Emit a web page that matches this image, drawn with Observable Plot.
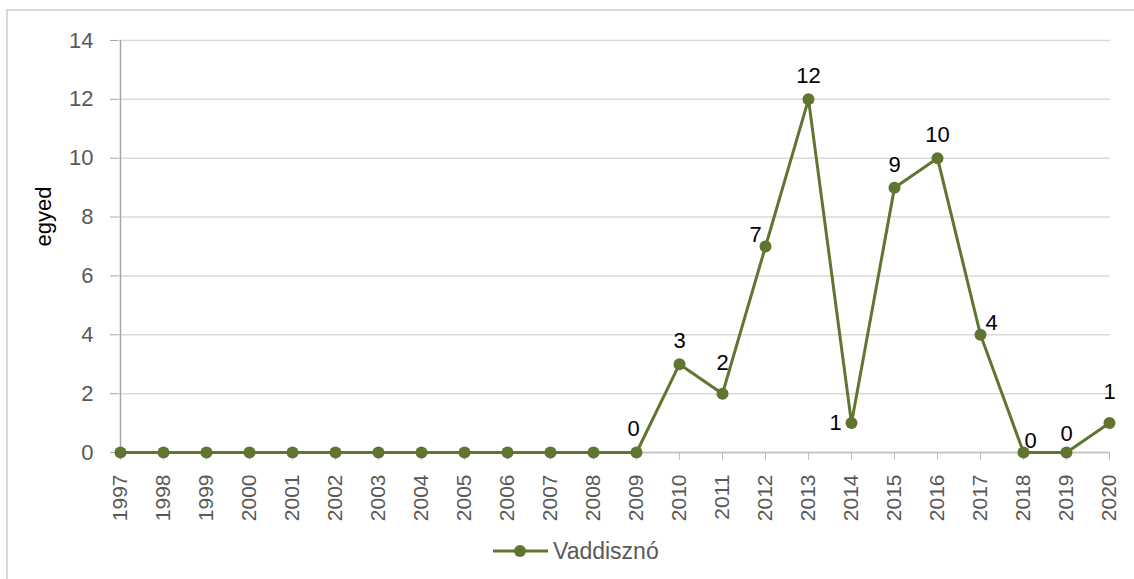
<!DOCTYPE html>
<html>
<head>
<meta charset="utf-8">
<script src="https://cdn.jsdelivr.net/npm/d3@7"></script>
<script src="https://cdn.jsdelivr.net/npm/@observablehq/plot@0.6"></script>
<style>
  html, body { margin: 0; padding: 0; background: #fff; }
  body { width: 1134px; height: 579px; position: relative; overflow: hidden; font-family: "Liberation Sans", Arial, sans-serif; }
  #frame { position: absolute; left: 6px; top: 9px; width: 1140px; height: 600px; border-left: 2px solid #d9d9d9; border-top: 2px solid #d9d9d9; box-sizing: border-box; pointer-events: none; }
  #chart { position: absolute; left: 0; top: 0; }
  #legend { position: absolute; left: 490px; top: 536px; display: flex; align-items: center; color: #595959; font-size: 23px; }
</style>
</head>
<body>
<div id="chart"></div>
<div id="legend"></div>
<div id="frame"></div>
<script>
const years = [1997,1998,1999,2000,2001,2002,2003,2004,2005,2006,2007,2008,2009,2010,2011,2012,2013,2014,2015,2016,2017,2018,2019,2020];
const values = [0,0,0,0,0,0,0,0,0,0,0,0,0,3,2,7,12,1,9,10,4,0,0,1];
// where the data label sits relative to its point (null = no label)
const labelPos = [null,null,null,null,null,null,null,null,null,null,null,null,"topLeft","top","topHigh","upLeft","top","left","top","top","upRight","upRightNear","topLow","topHigh"];
const seriesName = "Vaddisznó";
const yTicks = [0,2,4,6,8,10,12,14];
const yLabel = "egyed";

const color = "#5f7530";
const data = years.map((y, i) => ({year: y, value: values[i], pos: labelPos[i]}));

const offsets = {
  top: [0, -23], topHigh: [0, -31], topLow: [0, -19], topLeft: [-3, -24],
  left: [-16, 0], upLeft: [-10, -12], upRight: [11, -12], upRightNear: [7, -12]
};

const labelMarks = Object.entries(offsets).map(([k, [dx, dy]]) =>
  Plot.text(data.filter(d => d.pos === k), {x: "year", y: "value", text: d => String(d.value), dx, dy, fill: "#000", fontSize: 22})
);

const plot = Plot.plot({
  width: 1134,
  height: 530,
  marginTop: 40,
  marginBottom: 78,
  marginLeft: 118,
  marginRight: 24,
  style: {fontFamily: "'Liberation Sans', Arial, sans-serif", background: "transparent"},
  x: {type: "point", domain: years, padding: 0},
  y: {domain: [0, 14]},
  marks: [
    Plot.gridY(yTicks, {stroke: "#d9d9d9", strokeOpacity: 1, strokeWidth: 1.5}),
    Plot.ruleX([years[0]], {y1: 0, y2: 14, stroke: "#a6a6a6", strokeWidth: 1.5}),
    Plot.ruleY([0], {stroke: "#bfbfbf", strokeWidth: 1.5}),
    Plot.axisY({ticks: yTicks, tickSize: 8, tickPadding: 17, fontSize: 22, color: "#595959", stroke: "#a6a6a6", label: null}),
    Plot.axisX({ticks: years, tickSize: 8, tickPadding: 14, tickRotate: -90, fontSize: 21, color: "#595959", stroke: "#bfbfbf", label: null, tickFormat: d => String(d)}),
    Plot.text([yLabel], {frameAnchor: "left", dx: -75, rotate: -90, fontSize: 22, fill: "#000", text: d => d}),
    Plot.line(data, {x: "year", y: "value", stroke: color, strokeWidth: 3}),
    Plot.dot(data, {x: "year", y: "value", r: 6, fill: color, stroke: "none"}),
    ...labelMarks
  ]
});
document.getElementById("chart").appendChild(plot);

document.getElementById("legend").innerHTML =
  `<svg width="60" height="30" style="margin-right:3px"><line x1="3" y1="15" x2="58" y2="15" stroke="${color}" stroke-width="3"/><circle cx="30" cy="15" r="6" fill="${color}"/></svg><span>${seriesName}</span>`;
</script>
</body>
</html>
